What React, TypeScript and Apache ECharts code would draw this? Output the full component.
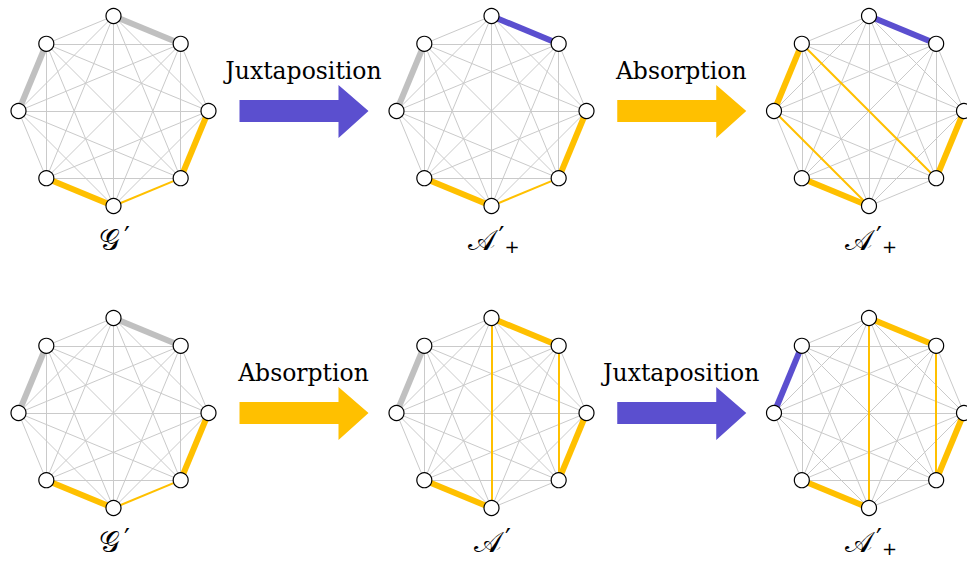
import React, { useEffect, useRef } from "react";
import * as echarts from "echarts";

// Octagon vertices (degrees, screen orientation): 0=top, 1=top-right, 2=right, 3=bottom-right,
// 4=bottom, 5=bottom-left, 6=left, 7=top-left
const vertexAngles = [-90, -45, 0, 45, 90, 135, 180, 225];

// Panels: [column, row]
const panelCells = [[0, 0], [1, 0], [2, 0], [0, 1], [1, 1], [2, 1]];
const panelLetters = ["𝒢", "𝒜", "𝒜", "𝒢", "𝒜", "𝒜"];
const panelPlus = [false, true, true, false, false, true];

// Highlighted edges per panel
const thickGray = [[[0, 1], [6, 7]], [[6, 7]], [], [[0, 1], [6, 7]], [[6, 7]], []];
const thickBlue = [[], [[0, 1]], [[0, 1]], [], [], [[6, 7]]];
const thickOrange = [
  [[2, 3], [5, 4]],
  [[2, 3], [4, 5]],
  [[6, 7], [2, 3], [4, 5]],
  [[2, 3], [5, 4]],
  [[0, 1], [2, 3], [4, 5]],
  [[0, 1], [2, 3], [4, 5]],
];
const thinOrange = [
  [[4, 3]],
  [[3, 4]],
  [[7, 3], [6, 4]],
  [[4, 3]],
  [[0, 4], [1, 3]],
  [[0, 4], [1, 3]],
];

// Arrows between panels
const arrowFromCol = [0, 1, 0, 1];
const arrowRow = [0, 0, 1, 1];
const arrowOps = ["Juxtaposition", "Absorption", "Absorption", "Juxtaposition"];

const COLORS = {
  gray: "#cacaca",
  grayThick: "#c0c0c0",
  blue: "#5b4fcf",
  orange: "#ffc000",
};

const W = 967;
const H = 563;
const colX = [113.5, 491.5, 869];
const rowY = [111, 413];
const R = 95;

export default function App() {
  const ref = useRef<HTMLDivElement>(null);
  useEffect(() => {
    if (!ref.current) return;
    const chart = echarts.init(ref.current, null, { renderer: "svg" });

    const vert = (p: number, k: number) => {
      const [c, r] = panelCells[p];
      const a = (vertexAngles[k] * Math.PI) / 180;
      return [colX[c] + R * Math.cos(a), rowY[r] + R * Math.sin(a)];
    };
    const key = (a: number, b: number) => (a < b ? `${a}-${b}` : `${b}-${a}`);

    const plainLines: any[] = [];
    const hiLines: any[] = [];
    const nodePts: any[] = [];
    panelCells.forEach((_, p) => {
      const special = new Map<string, any>();
      thickGray[p].forEach(([a, b]) => special.set(key(a, b), { color: COLORS.grayThick, width: 6 }));
      thickBlue[p].forEach(([a, b]) => special.set(key(a, b), { color: COLORS.blue, width: 6 }));
      thickOrange[p].forEach(([a, b]) => special.set(key(a, b), { color: COLORS.orange, width: 6 }));
      thinOrange[p].forEach(([a, b]) => special.set(key(a, b), { color: COLORS.orange, width: 2 }));
      for (let i = 0; i < 8; i++) {
        nodePts.push(vert(p, i));
        for (let j = i + 1; j < 8; j++) {
          const s = special.get(key(i, j));
          const coords = [vert(p, i), vert(p, j)];
          if (s) hiLines.push({ coords, lineStyle: { ...s, opacity: 1 } });
          else plainLines.push({ coords });
        }
      }
    });

    const graphics: any[] = [];
    arrowOps.forEach((op, i) => {
      const x0 = (colX[arrowFromCol[i]] + colX[arrowFromCol[i] + 1]) / 2 - 63;
      const cy = rowY[arrowRow[i]];
      const color = op === "Juxtaposition" ? COLORS.blue : COLORS.orange;
      graphics.push({
        type: "polygon",
        shape: {
          points: [
            [x0, cy - 11],
            [x0 + 99, cy - 11],
            [x0 + 99, cy - 26],
            [x0 + 129, cy],
            [x0 + 99, cy + 27],
            [x0 + 99, cy + 11],
            [x0, cy + 11],
          ],
        },
        style: { fill: color },
      });
      graphics.push({
        type: "text",
        x: x0 + 64,
        y: cy - 40,
        style: {
          text: op,
          fill: "#000",
          font: '23.5px "DejaVu Serif"',
          align: "center",
          verticalAlign: "middle",
        },
      });
    });
    panelCells.forEach(([c, r], p) => {
      const letter = panelLetters[p];
      graphics.push({
        type: "text",
        x: colX[c] + (panelPlus[p] ? 2 : 1),
        y: rowY[r] + 129,
        style: {
          text: panelPlus[p] ? `{m|${letter}}{p|′}{s|+}` : `{m|${letter}}{p|′}`,
          align: "center",
          verticalAlign: "middle",
          rich: {
            m: { font: '29px "DejaVu Serif"', fill: "#000" },
            p: { font: '26px "DejaVu Sans"', fill: "#000", padding: [0, 0, 6, 4] },
            s: { font: '18px "DejaVu Sans"', fill: "#000", padding: [12, 0, 0, 0] },
          },
        },
      });
    });

    chart.setOption({
      animation: false,
      backgroundColor: "#fff",
      grid: { left: 0, top: 0, right: 0, bottom: 0, show: false },
      xAxis: { type: "value", min: 0, max: W, show: false },
      yAxis: { type: "value", min: 0, max: H, inverse: true, show: false },
      series: [
        {
          type: "lines",
          coordinateSystem: "cartesian2d",
          silent: true,
          z: 1,
          lineStyle: { color: COLORS.gray, width: 1, opacity: 1, curveness: 0 },
          data: plainLines,
        },
        {
          type: "lines",
          coordinateSystem: "cartesian2d",
          silent: true,
          z: 2,
          lineStyle: { width: 2, opacity: 1, curveness: 0 },
          data: hiLines,
        },
        {
          type: "scatter",
          silent: true,
          z: 3,
          symbol: "circle",
          symbolSize: 15,
          itemStyle: { color: "#fff", borderColor: "#000", borderWidth: 1.2, opacity: 1 },
          data: nodePts,
        },
      ],
      graphic: graphics,
    });
    return () => chart.dispose();
  }, []);
  return (
    <div
      ref={ref}
      style={{ position: "fixed", left: 0, top: 0, width: W, height: H }}
    />
  );
}
